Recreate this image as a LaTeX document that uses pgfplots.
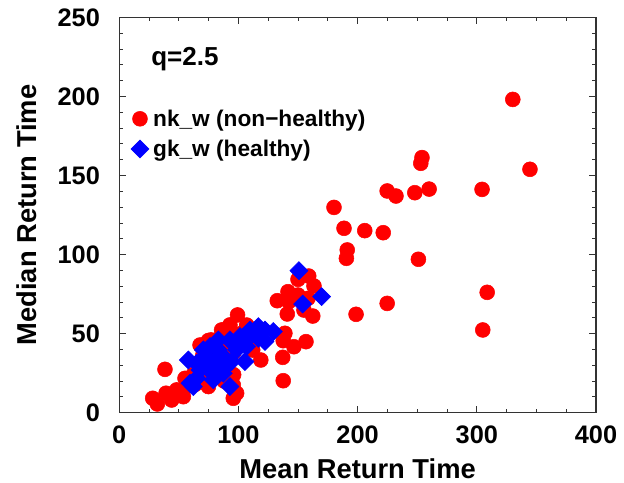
\documentclass[border=0pt]{standalone}
\usepackage{fontspec}
\setmainfont{Liberation Sans}
\usepackage{xcolor}
\usepackage{pgfplots}
\pgfplotsset{compat=1.18}
\definecolor{ptred}{RGB}{255,0,0}
\definecolor{ptblue}{RGB}{0,0,255}

\pgfplotsset{
  leg/.style={legend image code/.code={\path (-7pt,0pt) (7pt,0pt); \draw[##1] plot coordinates {(0pt,0pt)};}},
}

\begin{document}
\begin{tikzpicture}
\useasboundingbox (-89.4pt,-52pt) rectangle (378.6pt,309.5pt);
\begin{axis}[
  scale only axis,
  width=357.6pt, height=296.5pt,
  xmin=0, xmax=400, ymin=0, ymax=250,
  xtick={0,100,200,300,400}, ytick={0,50,100,150,200,250},
  minor x tick num=3, minor y tick num=4,
  tick align=inside, ticks=both,
  major tick length=5pt, minor tick length=3pt,
  axis line style={line width=0.8pt, black!80},
  every tick/.style={black!80, line width=0.6pt},
  /pgf/number format/assume math mode=true,
  tick label style={font=\fontsize{19}{19}\selectfont\bfseries},
  xticklabel style={anchor=base, inner sep=0pt, yshift=-23pt},
  yticklabel style={anchor=east, inner sep=0pt, xshift=-14.3pt},
  xlabel={Mean Return Time}, ylabel={Median Return Time},
  label style={font=\fontsize{20.5}{20.5}\selectfont\bfseries},
  xlabel style={at={(axis description cs:0.5,-0.1653)}, anchor=base},
  ylabel style={at={(axis description cs:-0.1734,0.5)}, anchor=base},
  legend style={draw=none, fill=none, inner sep=0pt,
    at={(axis description cs:0.0229,0.7707)}, anchor=north west,
    font=\fontsize{17}{17}\selectfont\bfseries,
    nodes={inner sep=1pt}, column sep=1.7pt, row sep=6.8pt},
  legend cell align=left,
  clip=false,
]
\addplot+[only marks, leg, mark=*, mark size=5.6pt, color=ptred,
  mark options={draw=ptred, fill=ptred}]
coordinates {
  (330.2,198.1) (344.6,153.9) (254,161.3) (253,157.7) (260,141.4)
  (248,139.1) (224.8,140.2) (232.2,137) (304.4,141.2) (180.2,129.8)
  (188.6,116.6) (206,115.1) (221.5,113.8) (191.3,102.9) (190.6,97.6)
  (251,97) (308.7,76.1) (224.8,69.1) (198.7,62.2) (305,52.3)
  (159,86.4) (150,84.3) (163.4,80.1) (141.6,76.5) (150,74.4)
  (158.4,72.3) (132.6,70.8) (142.3,70.2) (141,62.4) (155,64.9)
  (162.4,61.1) (139,50.2) (137.6,45.5) (146.6,41.7) (156.7,44.9)
  (137.2,35) (137.6,20.2) (118.8,33.3) (112,39.6) (99.3,61.8)
  (107,55.4) (88,52.3) (77,46)
  (28.1,9.1) (32,5.5) (38.4,27.4) (39.3,12.3) (45.4,10.1)
  (48.2,14.4) (53.8,10.1) (56.6,16.5) (55.2,21.7) (59.4,19.6)
  (67.8,42.8) (74.8,45.6) (85.9,52.3) (92.9,55.5) (106.9,54.4)
  (113.9,52.3) (94.3,50.2) (79,39.7) (95.7,17.5) (98.5,12.3)
  (95.7,9.1) (74.8,16.5) (83.2,23.8)
  (44,8) (50,12) (62,24) (66,30) (70,36) (72,26) (76,30) (80,28)
  (84,36) (88,42) (90,48) (96,38) (100,44) (104,48) (108,46) (110,42)
  (88,20) (92,26) (70,20) (64,18) (96,24) (102,50) (82,46) (86,34)
};
\addlegendentry{nk\_w (non\textminus healthy)}
\addplot+[only marks, leg, mark=square*, mark size=4.8pt, color=ptblue,
  mark options={draw=ptblue, fill=ptblue, rotate=45}]
coordinates {
  (150.8,89.8) (169.8,73.4) (153.9,68.7) (58,33.3) (59.4,18.6)
  (92.9,16.5) (105.5,32.3) (129.3,51.3) (122.3,52.3) (116.7,54.4)
  (109.7,52.3) (101.3,48.1) (92.9,46) (83.2,39.7) (76.2,41.8)
  (70.6,39.7) (65,31.2) (67.8,27) (73.4,29.1) (80.4,33.3)
  (87.3,35.5) (94.3,32.3) (87.3,24.9) (79,20.7) (65,21.7)
  (62.2,16.5) (83.2,46) (98.5,39.7) (106.9,41.8) (105.5,48.1)
  (116.7,47) (122.3,45) (71.9,35.5) (88,28) (78,25) (69,33)
  (95,44) (112,50)
};
\addlegendentry{gk\_w (healthy)}
\node[anchor=base west, font=\fontsize{19.5}{19.5}\selectfont\bfseries, inner sep=0pt]
  at (axis cs:26.7,219.8) {q=2.5};
\end{axis}
\end{tikzpicture}
\end{document}
